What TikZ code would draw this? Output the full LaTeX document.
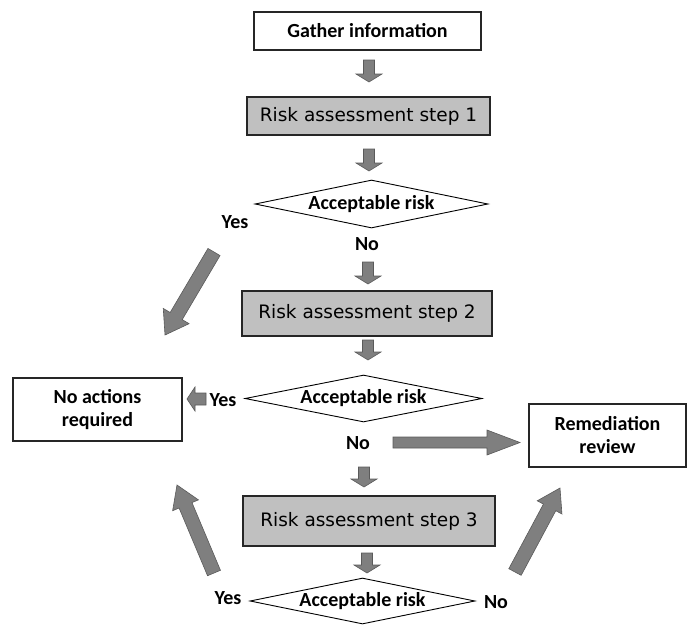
\documentclass[tikz,border=0pt]{standalone}
\usepackage{fontspec}
\setmainfont{Carlito}
\newfontfamily\stepfont{DejaVu Sans}
\usetikzlibrary{shapes.geometric,calc}
\definecolor{boxgray}{HTML}{C0C0C0}
\definecolor{arrowgray}{HTML}{7F7F7F}
\definecolor{arrowline}{HTML}{5A5A5A}
\tikzset{
  lbl/.style={font=\fontsize{20}{23}\selectfont\bfseries, text=black, inner sep=0pt},
  plainbox/.style={draw=black!85, line width=1.1pt, fill=white, align=center, lbl},
  stepbox/.style={draw=black!85, line width=1.1pt, fill=boxgray, inner sep=0pt,
                  font=\stepfont\fontsize{18.5}{22}\selectfont, text=black},
  decision/.style={diamond, draw=black, line width=0.9pt, fill=white, aspect=4.85, inner sep=0pt, lbl},
  blockarrowstyle/.style={fill=arrowgray, draw=arrowline, line width=0.6pt, line join=miter}
}
% #1 tail, #2 tip, #3 shaft half width, #4 head half width, #5 head length
\newcommand\blockarrow[5]{%
  \coordinate (bh) at ($(#2)!#5!(#1)$);
  \filldraw[blockarrowstyle] ($(#1)!#3!90:(#2)$) -- ($(bh)!#3!90:(#2)$) -- ($(bh)!#4!90:(#2)$) -- (#2)
     -- ($(bh)!#4!-90:(#2)$) -- ($(bh)!#3!-90:(#2)$) -- ($(#1)!#3!-90:(#2)$) -- cycle;
}
\begin{document}
\begin{tikzpicture}[x=1pt,y=-1pt]
\useasboundingbox (0,0) rectangle (688,625);
% boxes
\node[plainbox, minimum width=227pt, minimum height=38pt] (gather) at (367.5,31) {Gather information};
\node[stepbox, minimum width=243pt, minimum height=38pt] (step1) at (368.5,116) {Risk assessment step 1};
\node[decision, minimum width=233pt, minimum height=48pt] (dec1) at (371.5,204) {Acceptable risk};
\node[stepbox, minimum width=250pt, minimum height=45pt] (step2) at (367,313.5) {Risk assessment step 2};
\node[decision, minimum width=237pt, minimum height=47pt] (dec2) at (363.5,398.5) {Acceptable risk};
\node[plainbox, minimum width=169pt, minimum height=63pt] (noact) at (97.5,409.5) {No actions\\required};
\node[plainbox, minimum width=157pt, minimum height=63pt] (remed) at (607.5,435.5) {Remediation\\review};
\node[stepbox, minimum width=252pt, minimum height=50pt] (step3) at (369,521) {Risk assessment step 3};
\node[decision, minimum width=225pt, minimum height=46pt] (dec3) at (362.5,601) {Acceptable risk};
% labels
\node[lbl] (yes1) at (235,222) {Yes};
\node[lbl] (no1) at (367,244) {No};
\node[lbl] (yes2) at (223,400) {Yes};
\node[lbl] (no2) at (358,443) {No};
\node[lbl] (yes3) at (228,598) {Yes};
\node[lbl] (no3) at (496,602) {No};
% arrow end points
\coordinate (a1s) at (369,60);  \coordinate (a1e) at (369,82);
\coordinate (a2s) at (369,149); \coordinate (a2e) at (369,171);
\coordinate (a3s) at (368,262); \coordinate (a3e) at (368,284);
\coordinate (a4s) at (368,340); \coordinate (a4e) at (368,360);
\coordinate (a5s) at (364,467); \coordinate (a5e) at (364,487);
\coordinate (a6s) at (367,553); \coordinate (a6e) at (367,573);
\coordinate (hys) at (206,399); \coordinate (hye) at (187,399);
\coordinate (hns) at (393,442.5); \coordinate (hne) at (520,442.5);
\coordinate (dys) at (214,252); \coordinate (dye) at (165,335);
\coordinate (lys) at (214,573); \coordinate (lye) at (177,485);
\coordinate (rns) at (515,572); \coordinate (rne) at (560,488);
% small block arrows
\blockarrow{a1s}{a1e}{5.5pt}{13pt}{8pt}
\blockarrow{a2s}{a2e}{5.5pt}{13pt}{8pt}
\blockarrow{a3s}{a3e}{5.5pt}{13pt}{8pt}
\blockarrow{a4s}{a4e}{5.5pt}{13pt}{8pt}
\blockarrow{a5s}{a5e}{5.5pt}{13pt}{8pt}
\blockarrow{a6s}{a6e}{5.5pt}{13pt}{8pt}
\blockarrow{hys}{hye}{6pt}{12pt}{8pt}
% large block arrows
\blockarrow{hns}{hne}{5.5pt}{12.5pt}{33pt}
\blockarrow{dys}{dye}{7pt}{15pt}{22pt}
\blockarrow{lys}{lye}{7pt}{14pt}{22pt}
\blockarrow{rns}{rne}{7pt}{14pt}{22pt}
\end{tikzpicture}
\end{document}
